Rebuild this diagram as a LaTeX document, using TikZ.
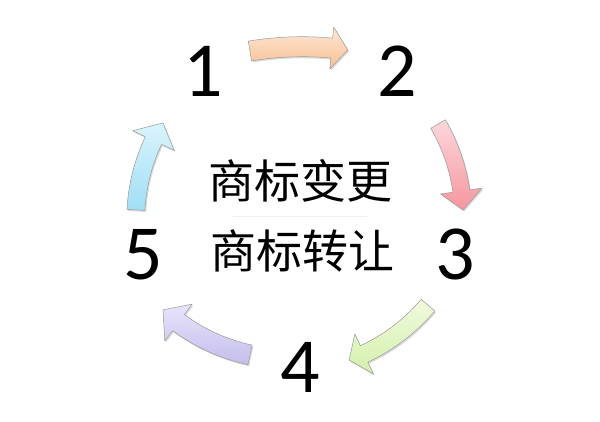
\documentclass[tikz,border=0pt]{standalone}
\usepackage{fontspec}
\setmainfont{Carlito}
\newfontfamily\cjk{Noto Sans CJK SC}
\definecolor{orA}{RGB}{254,232,212}
\definecolor{orB}{RGB}{248,190,148}
\definecolor{rdA}{RGB}{252,215,218}
\definecolor{rdB}{RGB}{246,150,160}
\definecolor{grA}{RGB}{240,250,222}
\definecolor{grB}{RGB}{212,240,170}
\definecolor{puA}{RGB}{232,228,250}
\definecolor{puB}{RGB}{196,190,236}
\definecolor{blA}{RGB}{218,244,252}
\definecolor{blB}{RGB}{160,222,245}
\newcommand\ringpath[6]{(#2:{#1+#5}) arc[start angle=#2, end angle=#3, radius={#1+#5}] -- (#3:{#1+#6}) -- (#4:#1) -- (#3:{#1-#6}) -- (#3:{#1-#5}) arc[start angle=#3, end angle=#2, radius={#1-#5}] -- cycle}
\newcommand\ringarrow[8]{%
  \begin{scope}[shift={(#1)}]
    \fill[black,opacity=0.14,shift={(1.2,-1.6)}] \ringpath{#2}{#3}{#4}{#5}{#6}{#7};
    \path[arrowline,#8] \ringpath{#2}{#3}{#4}{#5}{#6}{#7};
  \end{scope}}
\tikzset{
  arrowline/.style={draw=black!40, line width=0.5pt, line join=round},
  num/.style={anchor=base, inner sep=0pt, font=\fontsize{78}{78}\selectfont},
  cntext/.style={inner sep=0pt, font={\cjk\fontsize{46}{46}\selectfont}}
}
\begin{document}
\begin{tikzpicture}[x=1pt,y=1pt]
\useasboundingbox[fill=white] (0,0) rectangle (600,422);
% arrows
\ringarrow{302.2,55.3}{320}{99.4}{84.7}{81.8}{10}{21}{top color=orA,bottom color=orB}
\ringarrow{278.2,204.9}{185}{30.2}{8.1}{2.2}{8.5}{21}{top color=rdA,bottom color=rdB}
\ringarrow{286.5,236}{185}{-40.1}{-65.2}{-70.2}{9}{22}{top color=grA,bottom color=grB}
\ringarrow{288.5,248.1}{185}{258}{233.5}{227.3}{10}{23}{top color=puA,bottom color=puB}
\ringarrow{320.7,202.4}{185}{177}{154.7}{148.5}{9}{23}{top color=blA,bottom color=blB}
% numbers
\node[num] (n1) at (203,325) {1};
\node[num] (n2) at (397,325) {2};
\node[num] (n3) at (455,142) {3};
\node[num] (n4) at (300,29) {4};
\node[num] (n5) at (143,142) {5};
% texts
\node[cntext] (t1) at (300,241) {商标变更};
\node[cntext] (t2) at (302,171) {商标转让};
\coordinate (ruleL) at (233,205);
\coordinate (ruleR) at (367,205);
\draw[black!6, line width=1pt] (ruleL) -- (ruleR);
\end{tikzpicture}
\end{document}
